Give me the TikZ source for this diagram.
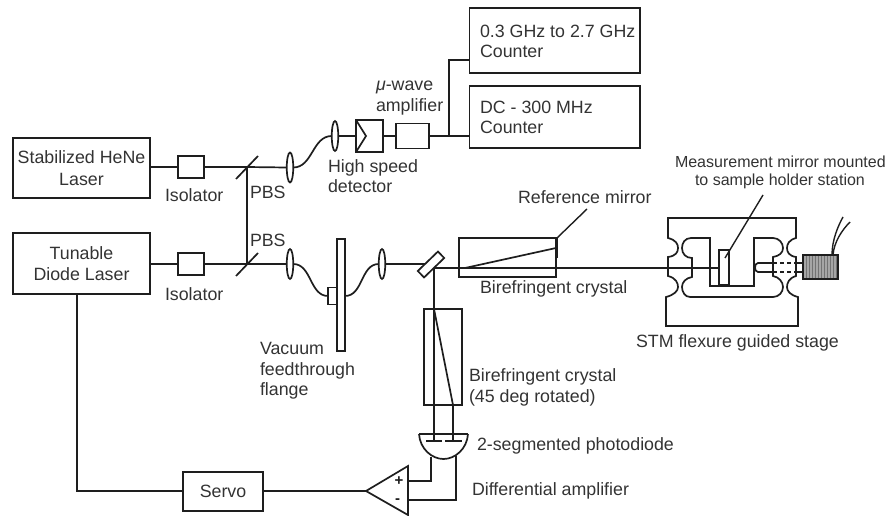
\documentclass[tikz,border=0pt]{standalone}
\usepackage{fontspec}
\setmainfont{Liberation Sans}
\usetikzlibrary{shapes.geometric}
\definecolor{ink}{HTML}{1E1E1E}
\definecolor{txt}{HTML}{333333}
\tikzset{
  every node/.style={inner sep=0pt,outer sep=0pt},
  box/.style={draw=ink,line width=1.7pt,rectangle,font=\fontsize{17.8}{21.5}\selectfont,text=txt,align=center},
  lbl/.style={text=txt,anchor=west,align=left,font=\fontsize{17.8}{20.5}\selectfont},
  small/.style={text=txt,anchor=west,font=\fontsize{16}{18}\selectfont},
  lens/.style={draw=ink,line width=1.7pt,ellipse,minimum width=6.5pt},
  fibre/.style={out=0,in=180,looseness=1},
  thin line/.style={line width=1.4pt},
}
\begin{document}
\begin{tikzpicture}[x=1pt,y=-1pt,line width=1.7pt,draw=ink]
\useasboundingbox (0,0) rectangle (888,516);
% left lasers
\node[box,minimum width=137pt,minimum height=60pt] (hene) at (81.5,168) {Stabilized HeNe\\Laser};
\node[box,minimum width=137pt,minimum height=61pt] (diode) at (81.5,263.5) {Tunable\\Diode Laser};
\node[box,minimum width=26pt,minimum height=22pt] (iso1) at (191,167) {};
\node[box,minimum width=26pt,minimum height=22pt] (iso2) at (191,264) {};
\node[lbl] (isolabel1) at (165,195) {Isolator};
\node[lbl] (isolabel2) at (165,294) {Isolator};
% PBS
\coordinate (pbs1) at (247,167);
\coordinate (pbs2) at (247,264);
\coordinate (pbs1a) at (236,179); \coordinate (pbs1b) at (258,156);
\coordinate (pbs2a) at (236,276); \coordinate (pbs2b) at (258,253);
\draw (pbs1a) -- (pbs1b);
\draw (pbs2a) -- (pbs2b);
\draw (pbs1) -- (pbs2);
\node[lbl] (pbslabel1) at (250,192) {PBS};
\node[lbl] (pbslabel2) at (250,240) {PBS};
\draw (hene.east |- iso1) -- (iso1.west);
\draw (iso1.east) -- (pbs1);
\draw (diode.east |- iso2) -- (iso2.west);
\draw (iso2.east) -- (pbs2);
% upper detection arm
\node[lens,minimum height=30pt] (l1) at (290,167.5) {};
\node[lens,minimum height=30pt] (l2) at (335,136) {};
\draw (pbs1) -- (l1.west);
\draw (l1.east) to[fibre] (l2.west);
\node[box,minimum width=27pt,minimum height=32pt] (det) at (369.5,136) {};
\draw (det.north west) -- (366,136) -- (det.south west);
\node[box,minimum width=33pt,minimum height=25pt] (amp) at (412.5,136) {};
\draw (l2.east) -- (det.west);
\draw (det.east) -- (amp.west);
\node[lbl] (hs) at (328,176) {High speed\\detector};
\node[lbl] (mw) at (376,98) {{\itshape μ}-wave\\amplifier};
\node[box,minimum width=170.5pt,minimum height=65pt] (c1) at (554.75,40.5) {};
\node[lbl] (c1text) at (480,41.5) {0.3 GHz to 2.7 GHz\\Counter};
\node[box,minimum width=170.5pt,minimum height=62pt] (c2) at (554.75,117) {};
\node[lbl] (c2text) at (480,117.5) {DC - 300 MHz\\Counter};
\coordinate (split) at (449,136);
\coordinate (c1in) at (469.5,60);
\draw (amp.east) -- (split) -- (c2.west |- split);
\draw (split) -- (449,60) -- (c1in);
% lower beam
\node[lens,minimum height=30pt] (l3) at (290,264) {};
\node[lens,minimum height=30pt] (l4) at (382,264) {};
\draw (pbs2) -- (l3.west);
\node[box,minimum width=8pt,minimum height=112pt] (flange) at (341,295) {};
\node[box,minimum width=9pt,minimum height=17pt] (feed) at (332.5,296) {};
\draw (l3.east) to[fibre] (feed.west);
\draw (flange.east |- feed) to[fibre] (l4.west);
\node[lbl] (vac) at (260,371) {Vacuum\\feedthrough\\flange};
% beam splitter
\node[box,minimum width=28pt,minimum height=9pt,rotate=44] (bs) at (431,264.5) {};
\coordinate (bsc) at (434,268);
\coordinate (bsin) at (425,264);
\draw (l4.east) -- (bsin);
% crystal 1
\node[box,minimum width=97pt,minimum height=39pt] (x1) at (507.5,257.5) {};
\coordinate (x1a) at (465,268);
\coordinate (x1b) at (556,248);
\draw (x1a) -- (x1b);
\coordinate (rm1) at (557,238); \coordinate (rm2) at (557,258);
\draw (rm1) -- (rm2);
\coordinate (rmleader) at (587,209);
\draw[thin line] (rm1) -- (rmleader);
\node[lbl] (rmlabel) at (518,197) {Reference mirror};
\node[lbl] (x1label) at (480,289) {Birefringent crystal};
% crystal 2
\node[box,minimum width=38pt,minimum height=96pt] (x2) at (443,357) {};
\coordinate (x2a) at (434,309);
\coordinate (x2b) at (453,405);
\draw (x2a) -- (x2b);
\node[lbl] (x2label) at (469,387.5) {Birefringent crystal\\(45 deg rotated)};
% photodiode
\coordinate (pdl) at (419,434); \coordinate (pdr) at (468,434);
\draw (pdl) -- (pdr);
\draw (pdl) .. controls (420,449) and (432,459) .. (443.5,459) .. controls (455,459) and (467,449) .. (468,434);
\coordinate (s1a) at (426,441); \coordinate (s1b) at (442,441);
\coordinate (s2a) at (445,441); \coordinate (s2b) at (462,441);
\draw (s1a) -- (s1b);
\draw (s2a) -- (s2b);
\coordinate (s1) at (434,441); \coordinate (s2) at (453,441);
\draw (bsc) -- (s1);
\draw (x2b) -- (s2);
\node[lbl] (pdlabel) at (477,446) {2-segmented photodiode};
% differential amp
\coordinate (tip) at (366,491);
\coordinate (backt) at (408,466);
\coordinate (backb) at (408,515);
\draw (tip) -- (backt) -- (backb) -- cycle;
\node[text=ink,font=\fontsize{15}{15}\selectfont\bfseries] (plus) at (399,481) {+};
\node[text=ink,font=\fontsize{15}{15}\selectfont\bfseries] (minus) at (397.5,501) {-};
\coordinate (pin) at (408,481); \coordinate (min) at (408,500);
\draw (pin) -- (431,481) -- (431,457);
\draw (min) -- (456,500) -- (456,456);
\node[lbl] (dalabel) at (472,491) {Differential amplifier};
% servo
\node[box,minimum width=80pt,minimum height=39pt] (servo) at (223,491.5) {Servo};
\draw (tip) -- (servo.east |- tip);
\draw (servo.west |- tip) -- (77,491) -- (77,294);
% stage outer
\draw (668,218) -- (796,218) -- (796,238)
  .. controls (789,240) and (787,244) .. (787,248) .. controls (787,252) and (789,256) .. (796,257)
  -- (796,276) .. controls (789,278) and (787,283) .. (787,287) .. controls (787,291) and (790,295) .. (798,297)
  -- (798,326) -- (666,326) -- (666,297)
  .. controls (674,295) and (678,291) .. (678,287) .. controls (678,283) and (676,278) .. (668,276)
  -- (668,257) .. controls (676,256) and (678,252) .. (678,248) .. controls (678,244) and (676,240) .. (668,238)
  -- cycle;
% stage inner
\draw (710,238) -- (691,238) .. controls (685,238) and (682,243) .. (682,248) .. controls (682,254) and (686,258) .. (692,258)
  -- (692,277) .. controls (686,278) and (682,282) .. (682,287) .. controls (682,292) and (685,297) .. (690,297)
  -- (773,297) .. controls (779,297) and (783,292) .. (783,287) .. controls (783,282) and (779,277) .. (773,276)
  -- (773,257) .. controls (779,256) and (783,253) .. (783,248) .. controls (783,243) and (779,238) .. (773,238)
  -- (754,238) -- (754,286) -- (710,286) -- cycle;
% sample mirror
\node[box,minimum width=10pt,minimum height=35pt] (mm) at (724,267.5) {};
\draw (bsc) -- (mm.west |- bsc);
\coordinate (mmt) at (725,258); \coordinate (mmleader) at (763,195);
\draw[thin line] (mmt) -- (mmleader);
\node[small] (mlabel) at (675,162) {Measurement mirror mounted};
\node[small] (mlabel2) at (695,181) {to sample holder station};
% actuator
\node[box,minimum width=35pt,minimum height=24pt,fill=black!35] (act) at (820.5,267) {};
\foreach \xx in {806,809,...,836}{\draw[line width=.5pt,draw=black!55] (\xx,256) -- (\xx,278);}
\coordinate (pa) at (773,263); \coordinate (pb) at (773,272);
\coordinate (pc) at (796,263); \coordinate (pd) at (796,272);
\draw (pa) -- (758,263) .. controls (754,263) and (754,272) .. (758,272) -- (pb);
\draw[dash pattern=on 4pt off 3pt] (pa) -- (pc);
\draw[dash pattern=on 4pt off 3pt] (pb) -- (pd);
\draw (pc) -- (act.west |- pc);
\draw (pd) -- (act.west |- pd);
\coordinate (w1) at (843,217); \coordinate (w2) at (850,222);
\draw[thin line] (832,255) .. controls (832,240) and (838,226) .. (w1);
\draw[thin line] (833,255) .. controls (834,242) and (842,230) .. (w2);
\node[lbl] (stmlabel) at (636,343) {STM flexure guided stage};
\end{tikzpicture}
\end{document}
